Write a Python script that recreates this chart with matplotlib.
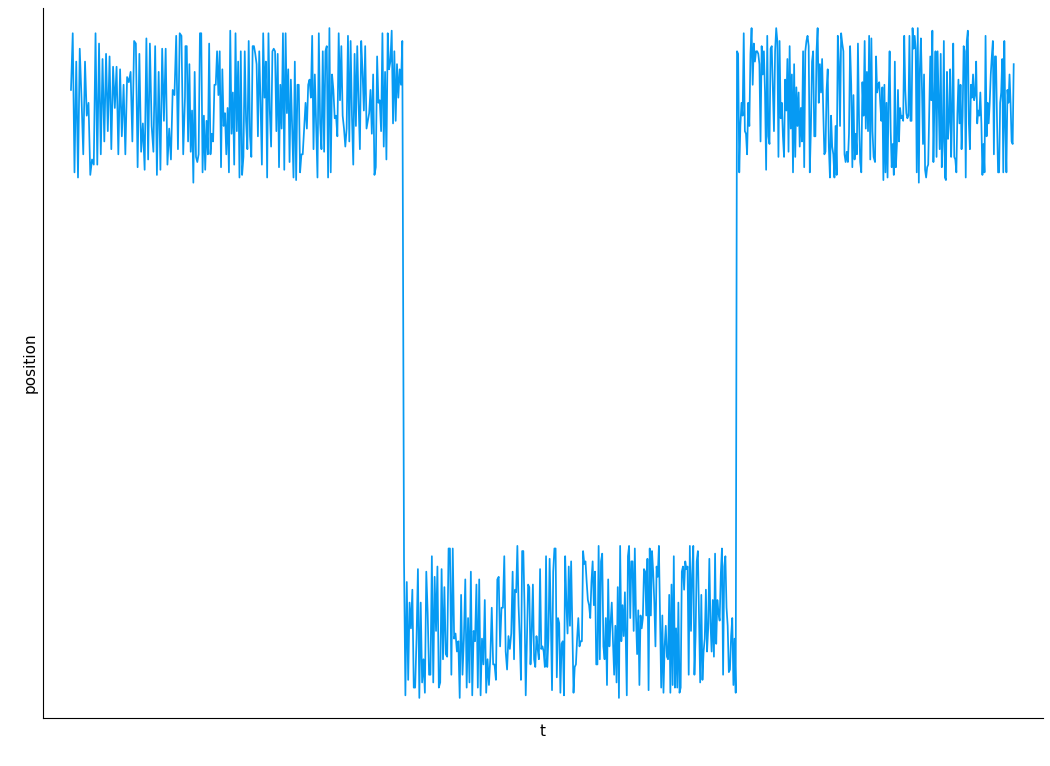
import numpy as np
import matplotlib
matplotlib.use("Agg")
import matplotlib.pyplot as plt

# position readings, one list per stretch of the trace; each stretch has
# its own start and end time (t runs 0..1000)
up_a = [1.06, 1.28, 0.74, 1.17, 0.72, 1.22, 1.03, 0.81, 1.17, 0.96, 1.01, 0.73, 0.79, 0.77,
        1.28, 0.77, 1.24, 0.81, 1.18, 0.86, 1.20, 0.90, 1.19, 0.83, 1.15, 0.99, 1.15, 0.81,
        1.14, 0.88, 1.08, 0.81, 1.11, 1.09, 1.13, 0.86, 1.25, 1.24, 0.76, 1.20, 0.82, 0.93,
        0.75, 1.26, 0.79, 1.24, 0.92, 0.82, 1.23, 0.73, 1.13, 0.75, 1.22, 0.94, 1.22, 0.77,
        0.91, 0.79, 1.06, 1.04, 1.27, 0.83, 1.28, 1.27, 0.81, 1.03]
up_b = [1.23, 1.23, 0.86, 1.16, 0.82, 0.98, 0.70, 1.13, 0.80, 0.78, 0.81, 1.28, 1.28, 0.74,
        0.96, 0.75, 0.94, 0.81, 1.24, 0.81, 0.89, 0.86, 1.08, 1.08, 1.21, 1.04, 1.21, 0.76,
        1.14, 0.92, 0.97, 0.81, 0.99, 0.74, 1.29, 0.89, 1.05, 0.77, 1.28, 0.90, 1.17, 0.72,
        1.21, 0.73, 0.80, 1.21, 0.94, 0.83, 1.25, 0.88, 0.80, 1.23, 1.23, 1.20, 1.16, 0.88,
        1.21, 1.01, 0.77, 1.28, 1.03, 1.17, 0.72, 1.28, 0.98, 0.84, 1.21, 1.22, 1.21, 0.90,
        1.20, 0.76, 1.08, 0.91, 1.28, 0.75, 1.28, 0.97, 1.14, 0.78, 1.10, 0.91, 0.72, 1.17,
        0.71, 1.08, 1.08, 0.74, 0.81, 0.81]
up_c = [1.01, 0.91, 1.08, 1.10, 1.03, 1.27, 0.83, 1.12, 0.92, 0.72, 1.28, 0.93, 0.83, 1.21,
        0.82, 1.21, 1.23, 0.72, 1.30, 0.74, 1.12, 1.06, 0.95, 0.96, 0.88, 1.28, 1.02, 1.23,
        0.96, 0.91, 0.84, 0.91, 1.27, 0.86, 1.25, 0.96, 0.77, 1.20, 0.92, 1.23, 1.01, 0.83,
        1.25, 1.13, 0.98, 1.23, 0.91, 0.94, 0.97, 1.06, 0.89, 1.12, 0.73, 0.76, 1.19, 1.01,
        1.02, 0.90, 1.28, 0.84, 1.13, 0.79, 1.28, 1.14, 1.17, 1.29, 0.93, 1.21, 0.94, 1.16,
        1.03, 1.14, 1.08, 1.25]
low_d = [-0.76, -1.29, -0.85, -1.23, -0.93, -1.03, -0.88, -1.26, -1.26, -1.07, -0.80, -1.30,
         -0.93, -1.24, -1.15, -1.28, -0.81, -0.97, -1.21, -1.21, -0.75, -1.24, -0.83, -1.04,
         -0.79, -1.26, -1.24, -0.80, -1.15, -0.87, -1.13, -1.14, -0.72, -0.72, -1.21, -0.72,
         -1.07, -1.05, -1.12, -1.08, -1.30, -0.90, -1.21, -1.07, -0.84, -1.26, -0.99, -1.24,
         -0.81, -1.29, -1.04, -1.08, -0.86, -1.26, -0.84, -1.29, -1.07, -1.17, -0.92, -1.28,
         -1.15, -1.25, -1.14, -0.95, -1.17, -1.17, -1.23, -0.84, -0.83, -1.10, -0.95, -0.95,
         -0.75, -1.12, -1.19, -1.06, -1.11, -1.05, -0.81, -1.15]
low_e = [-0.88, -0.89, -0.71, -0.94, -1.07, -1.23, -0.73, -0.73, -0.95, -1.29, -1.07, -0.86,
         -0.87, -1.17, -1.04, -0.86, -1.15, -1.18, -1.06, -1.11, -1.15, -0.80, -1.11, -1.10,
         -1.12, -1.18, -0.75, -1.18, -1.07, -0.76, -0.99, -1.27, -0.81, -0.72, -0.72, -1.22,
         -0.99, -1.01, -1.28, -1.09, -1.08, -1.29, -0.75, -0.93, -1.05, -0.79, -1.02, -0.77,
         -1.03, -1.28, -1.18, -1.17, -1.07, -0.99, -1.10, -1.08, -1.08, -0.73, -0.78, -0.77,
         -0.85, -0.92, -0.94, -0.99, -0.85, -0.77, -0.94, -0.81, -1.17, -1.17, -0.71, -1.15,
         -0.77, -0.74, -1.10, -1.15, -0.99, -1.25, -0.84, -1.10, -1.01, -0.93, -1.08, -1.21,
         -1.02, -1.24, -0.87, -1.30, -0.71, -1.08, -0.94, -1.06, -0.89]
low_f = [-1.29, -0.75, -0.71, -0.99, -0.77, -0.77, -1.04, -0.72, -0.98, -1.13, -0.96, -1.25,
         -0.98, -1.03, -0.99, -0.80, -0.81, -0.98, -0.76, -1.27, -0.72, -0.98, -0.73, -0.81,
         -0.93, -1.10, -0.79, -0.83, -0.71, -0.99, -1.26, -0.98, -1.28, -1.10, -1.02, -1.14,
         -1.15, -0.90, -1.28, -0.86, -1.25, -0.75, -1.26, -1.03, -1.26, -0.93, -1.28, -1.26,
         -0.81, -0.79, -0.88, -0.77, -0.80, -0.79, -1.21, -0.71, -1.04, -0.82, -0.71, -1.21,
         -1.06, -0.77, -0.73, -0.99, -1.24, -0.90, -1.23, -1.12, -1.07, -0.88, -1.12, -1.03,
         -0.76, -1.01, -1.12, -0.92, -1.14, -0.74, -1.09, -0.92, -0.97, -1.00, -0.82, -0.72,
         -1.21, -0.79, -0.75, -0.95, -1.02, -1.20, -1.19, -1.06, -0.99, -1.25, -1.07, -1.28]
up_g = [1.21, 1.20, 0.74, 0.92, 1.01, 0.96, 1.28, 0.90, 0.89, 0.81, 1.01, 0.92, 1.20, 1.30,
        1.08, 1.24, 1.17, 1.21, 1.21, 1.20, 1.16, 0.86, 1.23, 1.12, 1.21, 1.05, 0.75, 1.27,
        0.88, 0.85, 1.22, 1.23, 1.06, 0.90, 1.21, 1.30, 1.25, 0.80, 1.25, 0.95, 1.01, 0.88,
        0.80, 1.10, 0.98, 1.18, 0.82, 1.23, 0.91, 1.12, 0.74, 1.16, 0.80, 1.07, 0.92, 1.05,
        0.84, 0.99, 0.86, 1.21, 0.76, 1.21, 1.25, 1.27, 1.23, 0.74, 0.91, 1.17, 1.21, 0.88,
        0.88, 1.21, 1.30, 1.01, 1.16, 1.05, 1.18, 0.98, 0.81, 0.82, 1.06, 1.14, 0.84, 0.72,
        0.96, 0.84, 0.81, 0.72, 0.92, 0.73, 1.27, 1.17, 0.92, 1.28, 1.24, 1.21, 0.81, 0.78,
        0.82, 0.78, 0.89, 1.23, 1.08, 0.76, 1.04, 0.79, 0.89, 0.81, 1.24, 0.94, 0.78, 0.74,
        1.09, 0.96, 1.25, 0.91, 1.13, 0.90, 1.27, 0.79, 1.26, 0.90, 0.80]
up_h = [0.78, 1.19, 1.05, 1.08, 1.09, 1.01, 0.94, 1.07, 0.71, 1.08, 0.74, 1.01, 0.72, 1.03,
        1.21, 0.90, 0.76, 0.85, 0.73, 1.17, 0.76, 0.85, 1.06, 0.86, 0.99, 0.95, 0.96, 0.94,
        1.27, 1.06, 0.97, 0.95, 0.96, 1.27, 0.94, 0.94, 1.30, 1.22, 1.27, 1.22, 0.74, 1.30,
        0.70, 1.14, 1.26, 1.07, 0.85, 1.12, 0.75, 0.72, 0.76, 0.77, 0.97, 1.19, 1.02, 1.29,
        0.78, 1.02, 1.21, 0.80, 1.21, 1.01, 0.83, 1.20, 0.76, 0.86, 1.25, 0.72, 0.71, 1.13,
        0.87, 0.94, 1.14, 0.80, 0.99, 1.24, 0.80, 0.79, 0.74, 0.97, 1.10, 0.93, 1.08, 0.83,
        0.96, 1.23, 1.21, 0.72, 1.25, 1.29, 0.93, 0.83, 1.08, 1.03, 1.12, 1.02, 1.04, 1.17,
        0.93, 0.98, 0.96, 1.05, 0.93, 0.73, 0.85, 0.74, 1.27, 0.88, 1.01, 0.93, 1.01, 1.12,
        1.19, 1.25, 0.81, 1.19, 1.19, 0.94, 0.74, 0.74, 1.01, 1.05, 1.18, 0.74, 1.25, 0.92,
        0.74, 1.06, 1.01, 1.12, 1.01, 0.86, 0.85, 1.16]

stretches = [up_a, up_b, up_c, low_d, low_e, low_f, up_g, up_h]
stretch_times = [(0, 121), (121.5, 246), (249, 351.7), (353.5, 470.3),
                 (471.3, 588), (590, 705.6), (707, 852), (853.5, 1000.7)]

t = np.concatenate([np.linspace(a, b, len(v)) for v, (a, b) in zip(stretches, stretch_times)])
position = np.concatenate(stretches)

fig = plt.figure(figsize=(10.5, 7.66), dpi=100)
ax = fig.add_axes([43 / 1050, 48 / 766, 1000 / 1050, 710 / 766])
ax.plot(t, position, color="#069AF3", linewidth=1.25)

ax.set_xlim(-29.7, 1031.8)
ax.set_ylim(-1.378, 1.378)
ax.set_xticks([])
ax.set_yticks([])
ax.spines["top"].set_visible(False)
ax.spines["right"].set_visible(False)
ax.set_xlabel("t", fontsize=11)
ax.set_ylabel("position", fontsize=11)

fig.savefig("out.png", dpi=100)
